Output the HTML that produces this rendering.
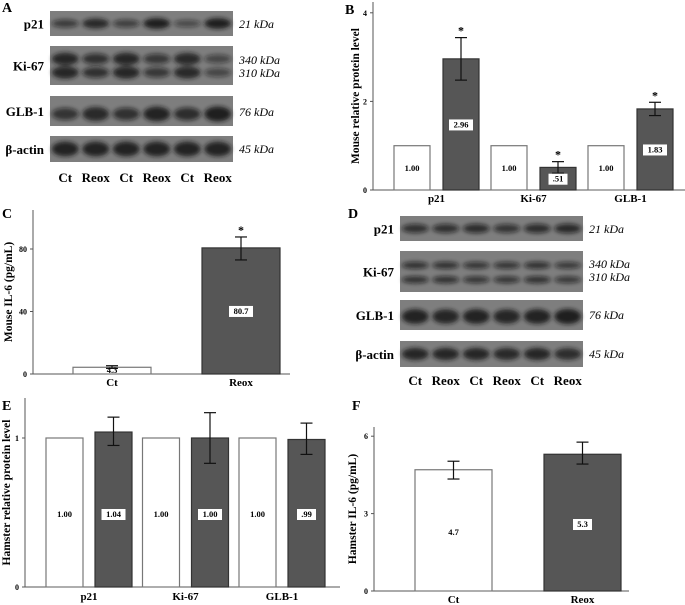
<!DOCTYPE html>
<html><head><meta charset="utf-8"><style>
html,body{margin:0;padding:0;background:#fff;}
svg{display:block;font-family:"Liberation Serif",serif;}
.lab{font-weight:bold;font-size:13px;}
.kda{font-style:italic;font-size:12px;}
.tick{font-size:8px;font-weight:bold;}
.cat{font-weight:bold;font-size:11px;}
.ttl{font-weight:bold;font-size:11.5px;}
.pl{font-weight:bold;font-size:14px;}
.val{font-size:8.5px;font-weight:bold;}
</style></head><body>
<svg id="fig" width="685" height="605" viewBox="0 0 685 605" xmlns="http://www.w3.org/2000/svg">
<defs>
<filter id="bl" x="-30%" y="-60%" width="160%" height="220%"><feGaussianBlur stdDeviation="2.2"/></filter>
</defs>
<g id="blots"></g>
<g id="charts"></g>
</svg>
<script>
// ---------- Chart data ----------
const bCategories = ["p21", "Ki-67", "GLB-1"];
const bCt = [1.00, 1.00, 1.00];
const bReox = [2.96, 0.51, 1.83];
const bReoxErrHi = [3.44, 0.64, 1.98];
const bReoxErrLo = [2.48, 0.38, 1.68];
const bLabelsCt = ["1.00", "1.00", "1.00"];
const bLabelsReox = ["2.96", ".51", "1.83"];
const bTicks = [0, 2, 4];

const cCategories = ["Ct", "Reox"];
const cValues = [4.3, 80.7];
const cErrHi = [5.3, 87.7];
const cErrLo = [3.6, 73.0];
const cLabels = ["4.3", "80.7"];
const cTicks = [0, 40, 80];

const eCategories = ["p21", "Ki-67", "GLB-1"];
const eCt = [1.00, 1.00, 1.00];
const eReox = [1.04, 1.00, 0.99];
const eReoxErrHi = [1.14, 1.17, 1.10];
const eReoxErrLo = [0.95, 0.83, 0.89];
const eLabelsCt = ["1.00", "1.00", "1.00"];
const eLabelsReox = ["1.04", "1.00", ".99"];
const eTicks = [0, 1];

const fCategories = ["Ct", "Reox"];
const fValues = [4.7, 5.3];
const fErrHi = [5.03, 5.77];
const fErrLo = [4.34, 4.92];
const fLabels = ["4.7", "5.3"];
const fTicks = [0, 3, 6];

const NS = "http://www.w3.org/2000/svg";
function mk(parent, tag, attrs, text) {
  const e = document.createElementNS(NS, tag);
  for (const k in attrs) e.setAttribute(k, attrs[k]);
  if (text !== undefined) e.textContent = text;
  parent.appendChild(e);
  return e;
}
const charts = document.getElementById("charts");
const blots = document.getElementById("blots");

function panelLetter(x, y, t) {
  const e = mk(charts, "text", {x: x, y: y, class: "pl"}, t);
  
  
}

function axes(g, x0, y0, yTop, xEnd, ticks, ys, title, titleX) {
  const ax = mk(g, "line", {x1: x0, y1: yTop, x2: x0, y2: y0, stroke: "#555", "stroke-width": 1});
  
  
  const bx = mk(g, "line", {x1: x0, y1: y0, x2: xEnd, y2: y0, stroke: "#555", "stroke-width": 1});
  
  
  ticks.forEach(t => {
    const tl = mk(g, "line", {x1: x0 - 3, y1: ys(t), x2: x0, y2: ys(t), stroke: "#555"});
    
    
    const tt = mk(g, "text", {x: x0 - 6, y: ys(t) + 3, class: "tick", "text-anchor": "end"}, String(t));
    
    
  });
  const midY = (y0 + yTop) / 2;
  const tt = mk(g, "text", {x: titleX, y: midY, class: "ttl", "text-anchor": "middle", transform: "rotate(-90 " + titleX + " " + midY + ")"}, title);
  
  
}

function bar(g, x, w, v, ys, fill, name) {
  const y0 = ys(0), y1 = ys(v);
  const r = mk(g, "rect", {x: x, y: y1, width: w, height: y0 - y1, fill: fill, stroke: fill === "#fff" ? "#777" : "#333", "stroke-width": 1.2});
  
  
}
function errBar(g, cx, hi, lo, ys) {
  const e = mk(g, "g", {stroke: "#111", "stroke-width": 1.2});
  
  
  mk(e, "line", {x1: cx, y1: ys(hi), x2: cx, y2: ys(lo)});
  mk(e, "line", {x1: cx - 6, y1: ys(hi), x2: cx + 6, y2: ys(hi)});
  mk(e, "line", {x1: cx - 6, y1: ys(lo), x2: cx + 6, y2: ys(lo)});
}
function valLabel(g, cx, y, t, boxed) {
  if (boxed) {
    const w = t.length * 5 + 4;
    const b = mk(g, "rect", {x: cx - w / 2, y: y - 8, width: w, height: 11, fill: "#fff"});
    
    
  }
  const e = mk(g, "text", {x: cx, y: y, class: "val", "text-anchor": "middle"}, t);
  
  
}
function star(g, cx, y) {
  const e = mk(g, "text", {x: cx, y: y, "font-size": 12, "font-weight": "bold", "text-anchor": "middle"}, "*");
  
  
}

function grouped(id, cfg, cats, ct, rx, hi, lo, lct, lrx, ticks, stars) {
  const g = mk(charts, "g", {});
  
  
  const ys = v => cfg.y0 - v * cfg.ppu;
  axes(g, cfg.x0, cfg.y0, cfg.yTop, cfg.xEnd, ticks, ys, cfg.title, cfg.titleX);
  cats.forEach((c, i) => {
    const gx = cfg.first + i * cfg.step;
    bar(g, gx, cfg.bw, ct[i], ys, "#fff", "bar-ct-" + c.toLowerCase());
    bar(g, gx + cfg.gap, cfg.bw, rx[i], ys, "#565656", "bar-reox-" + c.toLowerCase());
    const cx = gx + cfg.gap + cfg.bw / 2;
    errBar(g, cx, hi[i], lo[i], ys);
    if (stars) star(g, cx, ys(hi[i]) - 3);
    valLabel(g, gx + cfg.bw / 2, cfg.labY(ct[i], ys), lct[i], false);
    valLabel(g, cx, cfg.labY(rx[i], ys), lrx[i], true);
    const t = mk(g, "text", {x: gx + (cfg.gap + cfg.bw) / 2, y: cfg.catY, class: "cat", "text-anchor": "middle"}, c);
    
    
  });
}
grouped("chart-b-mouse-protein", {x0: 373, y0: 190, yTop: 2, xEnd: 685, ppu: 44.3, first: 394, step: 97, bw: 36, gap: 49, catY: 202, title: "Mouse relative protein level", titleX: 359, labY: (v, ys) => (ys(v) + ys(0)) / 2 + 3},
  bCategories, bCt, bReox, bReoxErrHi, bReoxErrLo, bLabelsCt, bLabelsReox, bTicks, true);
grouped("chart-e-hamster-protein", {x0: 25, y0: 587, yTop: 398, xEnd: 340, ppu: 149, first: 46, step: 96.5, bw: 37, gap: 49, catY: 600, title: "Hamster relative protein level", titleX: 10, labY: (v, ys) => 517},
  eCategories, eCt, eReox, eReoxErrHi, eReoxErrLo, eLabelsCt, eLabelsReox, eTicks, false);

function twoBar(id, cfg, cats, vals, hi, lo, labs, ticks, stars) {
  const g = mk(charts, "g", {});
  
  
  const ys = v => cfg.y0 - v * cfg.ppu;
  axes(g, cfg.x0, cfg.y0, cfg.yTop, cfg.xEnd, ticks, ys, cfg.title, cfg.titleX);
  cats.forEach((c, i) => {
    const x = cfg.first + i * cfg.step;
    bar(g, x, cfg.bw, vals[i], ys, i === 0 ? "#fff" : "#565656", "bar-" + c.toLowerCase());
    const cx = x + cfg.bw / 2;
    errBar(g, cx, hi[i], lo[i], ys);
    if (stars && i === 1) star(g, cx, ys(hi[i]) - 3);
    valLabel(g, cx, cfg.labY[i](vals[i], ys), labs[i], i === 1);
    const t = mk(g, "text", {x: cx, y: cfg.catY, class: "cat", "text-anchor": "middle"}, c);
    
    
  });
}
twoBar("chart-c-mouse-il6", {x0: 33, y0: 374, yTop: 210, xEnd: 290, ppu: 1.5625, first: 73, step: 129, bw: 78, catY: 386, title: "Mouse IL-6 (pg/mL)", titleX: 12,
  labY: [(v, ys) => ys(0) - 1, (v, ys) => (ys(v) + ys(0)) / 2 + 3]}, cCategories, cValues, cErrHi, cErrLo, cLabels, cTicks, true);
twoBar("chart-f-hamster-il6", {x0: 374, y0: 591, yTop: 427, xEnd: 629, ppu: 25.8, first: 415, step: 129, bw: 77, catY: 603, title: "Hamster IL-6 (pg/mL)", titleX: 356,
  labY: [(v, ys) => 535, (v, ys) => 527]}, fCategories, fValues, fErrHi, fErrLo, fLabels, fTicks, false);

panelLetter(345, 14, "B");
panelLetter(2, 218, "C");
panelLetter(2, 410, "E");
panelLetter(352, 410, "F");

function blotPanel(id, letter, lx, ly, x0, x1, strips, lanesY, lanes, intens) {
  const g = mk(blots, "g", {});
  
  
  const L = mk(g, "text", {x: lx, y: ly, class: "pl"}, letter);
  
  
  const lw = (x1 - x0) / 6;
  strips.forEach((s, si) => {
    const r = mk(g, "rect", {x: x0, y: s.y, width: x1 - x0, height: s.h, fill: "#7e7e7e"});
    
    
    const bg = mk(g, "g", {filter: "url(#bl)"});
    
    
    for (let i = 0; i < 6; i++) {
      const cx = x0 + lw * (i + 0.5);
      s.bands.forEach(b => {
        const k = intens[si][i];
        mk(bg, "ellipse", {cx: cx, cy: s.y + b * s.h, rx: lw * 0.44, ry: s.bh * (0.6 + 0.5 * k), fill: "#151515", opacity: 0.35 + 0.6 * k});
      });
    }
    const t = mk(g, "text", {x: x0 - 6, y: s.y + s.h / 2 + 5, class: "lab", "text-anchor": "end"}, s.name);
    
    
    s.kda.forEach((kd, j) => {
      const k = mk(g, "text", {x: x1 + 6, y: s.kdaY[j], class: "kda"}, kd);
      
      
    });
  });
  lanes.forEach((ln, i) => {
    const t = mk(g, "text", {x: x0 + lw * (i + 0.5), y: lanesY, class: "lab", "text-anchor": "middle"}, ln);
    
    
  });
}
const laneNames = ["Ct", "Reox", "Ct", "Reox", "Ct", "Reox"];
blotPanel("blot-a-mouse", "A", 2, 12, 50, 233, [
  {name: "p21", y: 11, h: 25, bands: [0.5], bh: 5, kda: ["21 kDa"], kdaY: [28]},
  {name: "Ki-67", y: 46, h: 39, bands: [0.33, 0.68], bh: 6, kda: ["340 kDa", "310 kDa"], kdaY: [64, 77]},
  {name: "GLB-1", y: 96, h: 30, bands: [0.6], bh: 7, kda: ["76 kDa"], kdaY: [116]},
  {name: "β-actin", y: 136, h: 26, bands: [0.5], bh: 7, kda: ["45 kDa"], kdaY: [153]}
], 182, laneNames, [[0.45, 0.8, 0.4, 0.95, 0.25, 0.95], [0.85, 0.6, 0.85, 0.5, 0.8, 0.3], [0.55, 0.8, 0.6, 0.9, 0.65, 0.95], [0.9, 0.9, 0.9, 0.9, 0.9, 0.9]]);
blotPanel("blot-d-hamster", "D", 348, 218, 400, 583, [
  {name: "p21", y: 216, h: 25, bands: [0.5], bh: 5, kda: ["21 kDa"], kdaY: [233]},
  {name: "Ki-67", y: 251, h: 41, bands: [0.35, 0.7], bh: 4, kda: ["340 kDa", "310 kDa"], kdaY: [268, 281]},
  {name: "GLB-1", y: 300, h: 30, bands: [0.55], bh: 7, kda: ["76 kDa"], kdaY: [319]},
  {name: "β-actin", y: 341, h: 26, bands: [0.5], bh: 6, kda: ["45 kDa"], kdaY: [358]}
], 385, laneNames, [[0.6, 0.6, 0.65, 0.55, 0.65, 0.7], [0.6, 0.6, 0.55, 0.55, 0.6, 0.5], [0.9, 0.85, 0.9, 0.85, 0.9, 0.95], [0.85, 0.85, 0.85, 0.8, 0.85, 0.75]]);
</script>
</body></html>
